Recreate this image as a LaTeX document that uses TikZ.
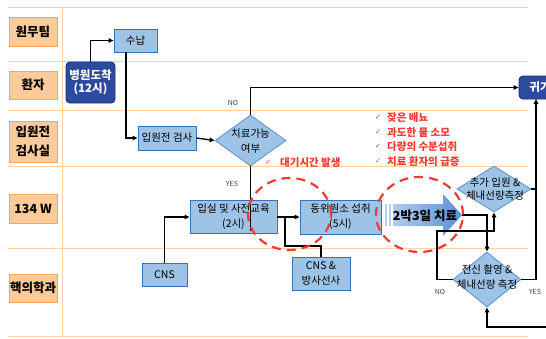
\documentclass[tikz,border=0pt]{standalone}
\usepackage{fontspec}
\setmainfont{Noto Sans CJK KR}
\newfontfamily\dv{DejaVu Sans}
\usetikzlibrary{arrows.meta,shapes.geometric,calc}
\definecolor{laneline}{HTML}{FBD3A6}
\definecolor{lanefill}{HTML}{FBCB9C}
\definecolor{lanedraw}{HTML}{F5A65B}
\definecolor{boxfill}{HTML}{9DC3E6}
\definecolor{boxdraw}{HTML}{3C70B4}
\definecolor{diadraw}{HTML}{5B8FCC}
\definecolor{darkfill}{HTML}{2C4A9E}
\definecolor{darkdraw}{HTML}{1D2F6B}
\definecolor{redc}{HTML}{F23A32}
\definecolor{arrL}{HTML}{B0CCEE}
\definecolor{arrR}{HTML}{5B8ED3}
\begin{document}
\begin{tikzpicture}[x=1pt,y=-1pt,
  lanebox/.style={draw=lanedraw, fill=lanefill, line width=0.8pt, minimum width=48pt, inner sep=0pt, font=\fontsize{12.5}{19}\selectfont\bfseries, align=center},
  bbox/.style={draw=boxdraw, fill=boxfill, line width=0.9pt, inner sep=0pt, font=\fontsize{10.5}{15}\selectfont, align=center},
  dbox/.style={draw=darkdraw, fill=darkfill, rounded corners=4pt, text=white, line width=0.9pt, inner sep=0pt, font=\fontsize{11.5}{13}\selectfont\bfseries, align=center},
  dia/.style={diamond, draw=diadraw, fill=boxfill, line width=0.8pt, inner sep=0pt},
  diatext/.style={font=\fontsize{10.5}{15}\selectfont, align=center, inner sep=0pt},
  conn/.style={line width=1.3pt, draw=black},
  arr/.style={conn, -{Triangle[length=5pt,width=4.5pt]}},
  yn/.style={font=\fontsize{7}{8}\selectfont, text=black!75, inner sep=0pt},
  redt/.style={font=\fontsize{10.5}{12}\selectfont\bfseries, text=redc, anchor=west, inner sep=0pt},
  chk/.style={font=\dv\fontsize{7}{8}\selectfont, text=redc, inner sep=0pt},
  ring/.style={draw=redc, line width=2.2pt, dash pattern=on 9pt off 6pt}
]
\useasboundingbox (0,0) rectangle (546,338);
\clip (0,0) rectangle (546,338);
\fill[white] (0,0) rectangle (546,338);
% lanes
\foreach \yy in {7,61,110,166,248,336} \draw[laneline, line width=1pt] (8,\yy) -- (528,\yy);
\draw[laneline, line width=1pt] (62,7) -- (62,336);
\node[lanebox, minimum height=29pt] (L1) at (33,31.5) {원무팀};
\node[lanebox, minimum height=28pt] (L2) at (33,85) {환자};
\node[lanebox, minimum height=41pt] (L3) at (33,141.5) {입원전\\검사실};
\node[lanebox, minimum height=29pt] (L4) at (33,208.5) {134 W};
\node[lanebox, minimum height=28pt] (L5) at (33,288) {핵의학과};
% nodes
\node[dbox, minimum width=49pt, minimum height=41pt] (arrive) at (90.5,82.5) {병원도착\\(12시)};
\node[bbox, minimum width=43pt, minimum height=23pt] (pay) at (135.5,40.5) {수납};
\node[bbox, minimum width=58pt, minimum height=24pt] (pre) at (167,138) {입원전 검사};
\node[dia, minimum width=71pt, minimum height=51pt] (d1) at (250.5,140.5) {};
\node[diatext] at (250.5,141) {치료가능\\여부};
\node[dbox, minimum width=42pt, minimum height=23pt] (home) at (540,87.5) {귀가};
\node[bbox, minimum width=87pt, minimum height=33pt] (edu) at (233.5,217) {입실 및 사전교육\\(2시)};
\node[bbox, minimum width=81pt, minimum height=34pt] (iso) at (340.5,217) {동위원소 섭취\\(5시)};
\node[bbox, minimum width=45pt, minimum height=23pt] (cns) at (164.5,274.5) {CNS};
\node[bbox, minimum width=58pt, minimum height=33pt] (cnsr) at (321,273.5) {CNS \&\\방사선사};
\node[dia, minimum width=74pt, minimum height=46pt] (d2) at (494,189) {};
\node[diatext, font=\fontsize{10.5}{13}\selectfont] at (495,189.5) {추가 입원 \&\\체내선량측정};
\node[dia, minimum width=68pt, minimum height=55pt] (d3) at (487,279.5) {};
\node[diatext] at (487,277.5) {전신 촬영 \&\\체내선량 측정};
% big arrow
\shade[left color=arrL, right color=arrR] (393,204) -- (443,204) -- (443,194) -- (462,215) -- (443,236) -- (443,226) -- (393,226) -- cycle;
\fill[arrL] (385,204) rectangle (387,226);
\fill[arrL] (389,204) rectangle (391,226);
\node[font=\fontsize{12.5}{13}\selectfont\bfseries, inner sep=0pt] (trt) at (425,215.5) {2박3일 치료};
\coordinate (tip) at (462,215);
% connectors
\draw[arr] (arrive.north) |- (pay.west);
\draw[arr] ([xshift=-9.5pt]pay.south) |- (pre.west);
\draw[arr] (pre.east) -- (d1.west);
\draw[arr] (d1.north) |- (home.west);
\node[yn] at (233,103) {NO};
\draw[conn] (d1.south) -- ([yshift=3pt]d1.south |- edu.south);
\node[yn] at (232,184) {YES};
\draw[arr] (cns.north) |- (edu.west);
\draw[arr] (edu.east) -- (iso.west);
\coordinate (j1) at (285,217);
\coordinate (j2) at (285,246);
\draw[conn] (cnsr.north) |- (j2) -- (j1);
\draw[arr] (tip) -| (d3.north);
\coordinate (nL) at (437,231);
\draw[arr] (d3.west) -| (nL) -| (d2.south);
\node[yn] at (440,292) {NO};
\coordinate (hb) at (536,99);
\draw[arr] (d3.east) -| (hb);
\draw[conn] (d2.east) -- (d2.east -| hb);
\node[yn] at (535,292) {YES};
\coordinate (bR) at (552,327);
\draw[arr] (bR) -| (d3.south);
% red rings
\draw[ring] (289.5,214) ellipse [x radius=41.5pt, y radius=36pt];
\draw[ring] (419.5,214.5) ellipse [x radius=43.5pt, y radius=37.5pt];
% red notes
\node[chk] (k0) at (268,162) {✓};
\node[redt] (r0) at (280,163) {대기시간 발생};
\node[chk] (k1) at (378,117) {✓};
\node[redt] (r1) at (387,118) {잦은 배뇨};
\node[chk] (k2) at (378,132) {✓};
\node[redt] (r2) at (387,133) {과도한 물 소모};
\node[chk] (k3) at (378,146) {✓};
\node[redt] (r3) at (387,147) {다량의 수분섭취};
\node[chk] (k4) at (378,161) {✓};
\node[redt] (r4) at (387,162) {치료 환자의 급증};
\end{tikzpicture}
\end{document}
